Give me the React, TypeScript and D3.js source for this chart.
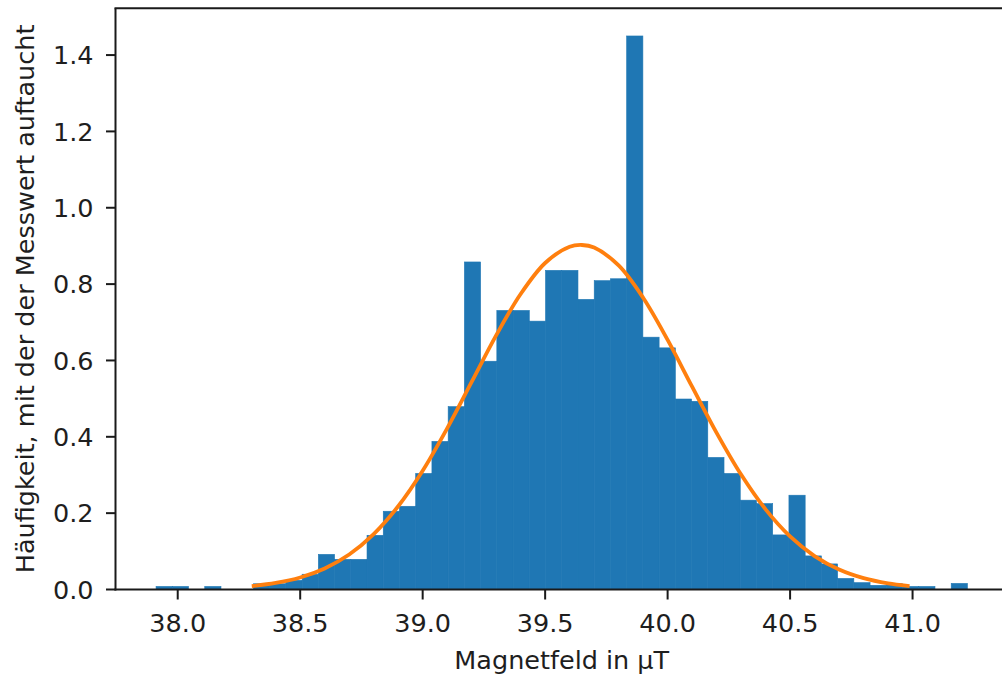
import { useEffect, useRef } from 'react';
import * as d3 from 'd3';

// histogram (density=True, 50 bins)
const binMin = 37.9116;
const binMax = 41.224;
const densities = [
  0.008, 0.008, 0, 0.008, 0, 0, 0.015, 0.015, 0.024, 0.040,
  0.092, 0.079, 0.079, 0.142, 0.205, 0.218, 0.304, 0.388, 0.479, 0.858,
  0.598, 0.731, 0.731, 0.703, 0.836, 0.836, 0.760, 0.809, 0.814, 1.450,
  0.661, 0.633, 0.499, 0.493, 0.346, 0.304, 0.234, 0.225, 0.143, 0.247,
  0.088, 0.067, 0.029, 0.018, 0.011, 0.015, 0.008, 0.008, 0, 0.016,
];

// fitted normal curve
const curveX = [
  38.31, 38.4, 38.5, 38.6, 38.7, 38.8, 38.9, 39.0, 39.1, 39.2, 39.3, 39.4, 39.5, 39.6, 39.65,
  39.7, 39.8, 39.9, 40.0, 40.1, 40.2, 40.3, 40.4, 40.5, 40.6, 40.7, 40.8, 40.9, 40.98,
];
const curveY = [
  0.0094, 0.0171, 0.0315, 0.0552, 0.0918, 0.1452, 0.218, 0.311, 0.422, 0.5436, 0.6656, 0.774, 0.8553, 0.898, 0.9025,
  0.8957, 0.8488, 0.7642, 0.6538, 0.5314, 0.4103, 0.301, 0.2099, 0.139, 0.0875, 0.0523, 0.0297, 0.016, 0.0094,
];

const xTicks = [38.0, 38.5, 39.0, 39.5, 40.0, 40.5, 41.0];
const yTicks = [0.0, 0.2, 0.4, 0.6, 0.8, 1.0, 1.2, 1.4];

const xLabel = 'Magnetfeld in µT';
const yLabel = 'Häufigkeit, mit der der Messwert auftaucht';

const App = () => {
  const svgRef = useRef<SVGSVGElement>(null);
  const width = 1002;
  const height = 683;

  useEffect(() => {
    const svg = d3.select(svgRef.current);
    svg.selectAll('*').remove();

    const left = 115.5;
    const right = 1008; // right spine falls outside the cropped image
    const top = 8.3;
    const bottom = 589.5;
    const font = 'DejaVu Sans, sans-serif';
    const fs = 25.5;
    const textColor = '#1e1e1e';

    const n = densities.length;
    const bw = (binMax - binMin) / n;
    const span = binMax - binMin;

    const x = d3.scaleLinear()
      .domain([binMin - 0.05 * span, binMax + 0.05 * span])
      .range([left, right]);
    const maxD = d3.max(densities) as number;
    const y = d3.scaleLinear()
      .domain([0, maxD * 1.05])
      .range([bottom, top]);

    svg.attr('width', width).attr('height', height);
    svg.append('rect').attr('width', width).attr('height', height).attr('fill', '#fff');

    // bars (thin stroke of the same colour hides seams between neighbours)
    svg.append('g')
      .selectAll('rect')
      .data(densities.map((d, i) => ({ d, i })).filter(b => b.d > 0))
      .enter()
      .append('rect')
      .attr('x', b => x(binMin + b.i * bw))
      .attr('y', b => y(b.d))
      .attr('width', b => x(binMin + (b.i + 1) * bw) - x(binMin + b.i * bw))
      .attr('height', b => bottom - y(b.d))
      .attr('fill', '#1f77b4')
      .attr('stroke', '#1f77b4')
      .attr('stroke-width', 0.6);

    // normal curve
    const line = d3.line<number>()
      .x((d, i) => x(curveX[i]))
      .y(d => y(d))
      .curve(d3.curveCatmullRom);
    svg.append('path')
      .attr('d', line(curveY))
      .attr('fill', 'none')
      .attr('stroke', '#ff7f0e')
      .attr('stroke-width', 3.8)
      .attr('stroke-linecap', 'square');

    // spines
    const spines = svg.append('g').attr('stroke', '#1a1a1a').attr('stroke-width', 2);
    spines.append('line').attr('x1', left).attr('x2', left).attr('y1', top).attr('y2', bottom + 1);
    spines.append('line').attr('x1', left - 1).attr('x2', right).attr('y1', bottom).attr('y2', bottom);
    spines.append('line').attr('x1', left - 1).attr('x2', right).attr('y1', top).attr('y2', top);

    // x ticks
    const xt = svg.append('g');
    xt.selectAll('line')
      .data(xTicks)
      .enter()
      .append('line')
      .attr('x1', d => x(d))
      .attr('x2', d => x(d))
      .attr('y1', bottom)
      .attr('y2', bottom + 10)
      .attr('stroke', '#1a1a1a')
      .attr('stroke-width', 2);
    xt.selectAll('text')
      .data(xTicks)
      .enter()
      .append('text')
      .attr('x', d => x(d))
      .attr('y', 631.5)
      .attr('text-anchor', 'middle')
      .attr('font-family', font)
      .attr('font-size', fs)
      .attr('fill', textColor)
      .text(d => d.toFixed(1));

    // y ticks
    const yt = svg.append('g');
    yt.selectAll('line')
      .data(yTicks)
      .enter()
      .append('line')
      .attr('x1', left - 9.5)
      .attr('x2', left)
      .attr('y1', d => y(d))
      .attr('y2', d => y(d))
      .attr('stroke', '#1a1a1a')
      .attr('stroke-width', 2);
    yt.selectAll('text')
      .data(yTicks)
      .enter()
      .append('text')
      .attr('x', 93.5)
      .attr('y', d => y(d))
      .attr('dy', '0.36em')
      .attr('text-anchor', 'end')
      .attr('font-family', font)
      .attr('font-size', fs)
      .attr('fill', textColor)
      .text(d => d.toFixed(1));

    // axis labels
    svg.append('text')
      .attr('x', (left + right) / 2)
      .attr('y', 669)
      .attr('text-anchor', 'middle')
      .attr('font-family', font)
      .attr('font-size', fs)
      .attr('fill', textColor)
      .text(xLabel);

    const cy = (top + bottom) / 2;
    svg.append('text')
      .attr('transform', `translate(33.5, ${cy}) rotate(-90)`)
      .attr('text-anchor', 'middle')
      .attr('font-family', font)
      .attr('font-size', fs)
      .attr('fill', textColor)
      .text(yLabel);
  }, []);

  return (
    <div style={{ position: 'fixed', left: 0, top: 0, width, height, overflow: 'hidden' }}>
      <svg ref={svgRef} style={{ display: 'block' }}></svg>
    </div>
  );
};

export default App;
